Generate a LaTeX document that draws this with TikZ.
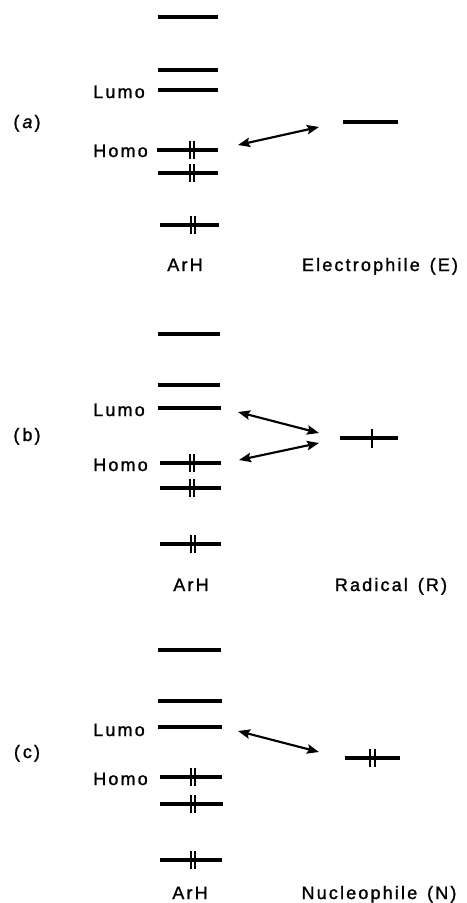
\documentclass[tikz,border=0pt]{standalone}
\usepackage{fontspec}
\setmainfont{Liberation Sans}[LetterSpace=12,FakeBold=1.3]
\usetikzlibrary{arrows.meta}
\tikzset{
  lvl/.style={line width=2.6pt},
  spin/.style={line width=1.4pt},
  inter/.style={line width=1.6pt,
    {Stealth[length=9pt,width=7pt,inset=1.5pt]}-{Stealth[length=9pt,width=7pt,inset=1.5pt]}},
  lab/.style={inner sep=0pt, anchor=base, font=\fontsize{13.5}{15}\selectfont},
  sidelab/.style={lab, anchor=base west},
}
\newcommand\orbempty[3]{\draw[lvl] (#1,#3) -- (#2,#3);}
\newcommand\orbfull[5]{\draw[lvl] (#1,#3) -- (#2,#3);
  \draw[spin] (#4,#3-9) -- (#4,#3+9);
  \draw[spin] (#5,#3-9) -- (#5,#3+9);}
\newcommand\wsp{\hspace{0.55em}}
\begin{document}
\begin{tikzpicture}[x=0.75pt,y=-0.75pt]
\useasboundingbox (0,0) rectangle (467,903);
% ---------- panel (a)
\orbempty{158}{218}{17}
\orbempty{158}{218}{70}
\orbempty{158}{218}{90}
\orbfull{157}{218}{150}{190}{194}
\orbfull{158}{218}{173}{190}{194}
\orbfull{160}{219}{225}{191}{195}
\orbempty{343}{398}{122}
\node[lab] (pa) at (27,128) {(\,\textit{a})};
\node[sidelab] (lumoa) at (93,98) {Lumo};
\node[sidelab] (homoa) at (93,157) {Homo};
\node[lab] (arha) at (185,271) {ArH};
\node[lab] (ea) at (380,271) {Electrophile\wsp(E)};
\coordinate (a1) at (238,145);
\coordinate (a2) at (319,127);
\draw[inter] (a1) -- (a2);
% ---------- panel (b)
\orbempty{158}{220}{334}
\orbempty{158}{220}{385}
\orbempty{158}{221}{408}
\orbfull{160}{221}{463}{190}{194}
\orbfull{160}{221}{488}{190}{194}
\orbfull{160}{221}{544}{191}{195}
\draw[lvl] (340,438) -- (398,438);
\draw[spin] (372,429) -- (372,448);
\node[lab] (pb) at (27,441) {(\,b)};
\node[sidelab] (lumob) at (93,416) {Lumo};
\node[sidelab] (homob) at (93,471) {Homo};
\node[lab] (arhb) at (191,591) {ArH};
\node[lab] (rb) at (391,591) {Radical\wsp(R)};
\coordinate (b1) at (238,412);
\coordinate (b2) at (319,433);
\coordinate (b3) at (239,460);
\coordinate (b4) at (319,443);
\draw[inter] (b1) -- (b2);
\draw[inter] (b3) -- (b4);
% ---------- panel (c)
\orbempty{158}{221}{650}
\orbempty{158}{222}{701}
\orbempty{158}{222}{727}
\orbfull{160}{222}{777}{191}{195}
\orbfull{160}{223}{804}{191}{195}
\orbfull{160}{222}{860}{191}{195}
\orbfull{345}{400}{758}{370}{375}
\node[lab] (pc) at (27,758) {(\,c)};
\node[sidelab] (lumoc) at (93,736) {Lumo};
\node[sidelab] (homoc) at (93,785) {Homo};
\node[lab] (arhc) at (190,899) {ArH};
\node[lab] (nc) at (379,899) {Nucleophile\wsp(N)};
\coordinate (c1) at (238,731);
\coordinate (c2) at (319,752);
\draw[inter] (c1) -- (c2);
\end{tikzpicture}
\end{document}
